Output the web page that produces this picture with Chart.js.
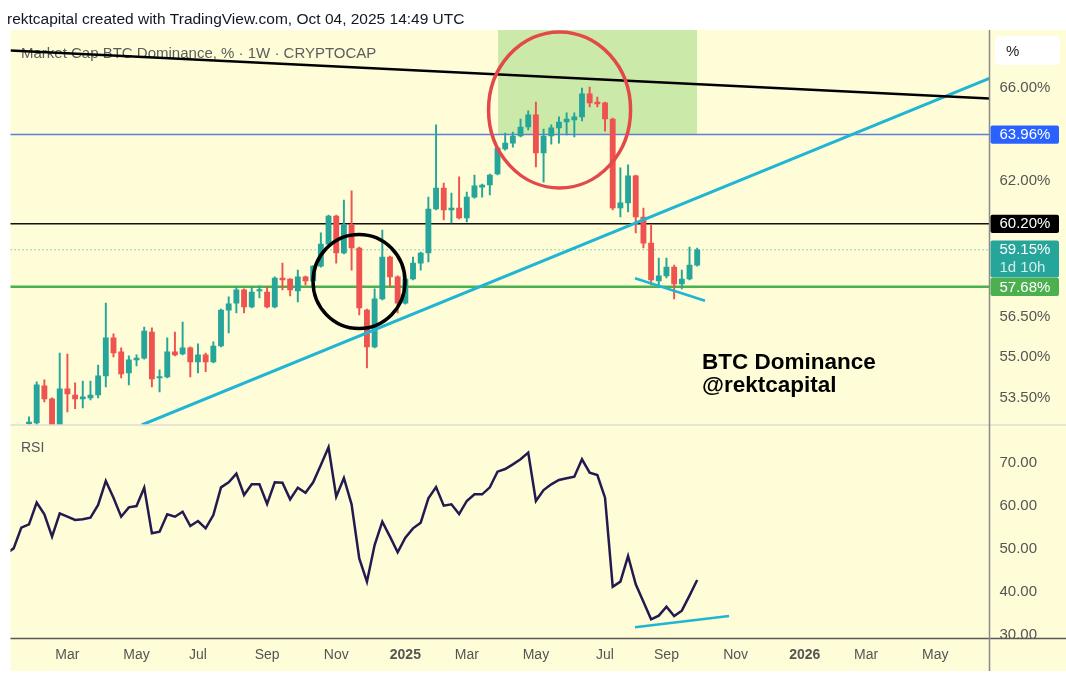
<!DOCTYPE html>
<html><head><meta charset="utf-8">
<script src="https://cdn.jsdelivr.net/npm/chart.js@4.4.0/dist/chart.umd.min.js"></script>
<style>html,body{margin:0;padding:0;background:#fff;}#wrap{width:1066px;height:675px;position:relative;}</style>
</head><body><div id="wrap"><canvas id="c"></canvas></div>
<script>
// ---- data (weekly candles, week index 0 = 2024-01-29) ----
const openP = [52.57,52.59,53.93,53.46,52.40,53.82,53.60,53.46,53.49,53.60,
54.30,55.72,55.19,54.41,54.89,54.96,55.94,54.22,54.26,55.19,
55.11,55.34,54.82,55.08,54.82,55.41,56.78,57.05,57.56,56.90,
57.52,57.48,56.90,58.03,57.99,57.52,58.07,57.91,58.50,59.38,
60.52,59.02,60.16,59.22,56.78,55.38,57.21,58.86,58.07,57.05,
57.99,58.62,59.02,60.81,61.68,60.77,60.85,60.44,61.30,61.72,
61.81,62.27,63.34,63.59,63.90,64.29,64.82,63.17,63.90,64.25,
64.51,64.60,64.73,65.75,65.39,65.35,64.64,60.85,61.06,62.19,
60.48,59.42,57.91,58.11,58.46,57.80,57.99,58.54];
const highP = [52.81,54.08,54.15,53.50,55.15,55.11,54.04,54.11,54.11,54.70,
57.05,55.87,55.34,55.04,55.08,56.13,56.10,54.52,55.72,55.94,
56.32,55.38,55.49,55.15,55.57,56.82,57.29,57.68,57.60,57.68,
57.72,57.68,58.07,58.62,58.01,58.34,58.10,58.52,59.83,60.56,
60.56,61.18,61.56,59.26,56.82,57.60,59.95,58.90,58.11,58.03,
58.86,59.06,61.30,64.38,61.89,61.47,62.15,61.51,62.23,61.85,
62.27,63.42,64.03,64.07,64.64,65.00,65.39,64.20,64.38,64.73,
64.91,64.91,66.01,66.06,65.61,65.39,64.68,62.53,62.66,62.23,
60.85,60.16,58.82,58.82,58.54,58.34,59.26,59.22];
const lowP = [52.50,52.50,53.35,52.30,52.30,52.99,53.10,53.13,53.42,53.49,
53.89,55.00,54.22,53.97,54.67,54.92,53.89,53.71,54.22,55.04,
55.08,54.26,54.41,54.45,54.78,55.38,55.91,56.67,56.67,56.86,
57.25,56.86,56.86,57.56,57.33,57.09,57.76,57.88,58.46,59.34,
58.62,58.98,58.34,56.59,54.59,55.34,57.17,57.68,56.67,57.01,
57.95,58.34,58.66,60.77,60.36,60.24,60.40,60.28,61.26,61.30,
61.39,62.23,63.29,63.42,63.86,64.16,62.57,61.93,63.55,63.59,
63.94,63.86,64.56,65.17,65.17,64.11,60.77,60.48,60.69,59.83,
59.22,57.76,57.76,58.03,57.21,57.60,57.95,58.50];
const closeP = [52.60,53.97,53.46,52.40,53.82,53.64,53.46,53.53,53.60,54.30,
55.72,55.15,54.37,54.89,54.96,55.98,54.19,54.26,55.19,55.08,
55.34,54.82,55.08,54.82,55.41,56.78,57.02,57.56,56.90,57.48,
57.56,56.90,58.03,57.95,57.56,58.07,57.91,58.50,59.38,60.52,
59.02,60.16,59.22,56.86,55.38,57.21,58.86,58.07,57.05,57.99,
58.62,59.02,60.81,61.68,60.77,60.85,60.44,61.30,61.77,61.81,
62.23,63.38,63.59,63.90,64.29,64.82,63.17,63.90,64.25,64.51,
64.64,64.73,65.75,65.35,65.30,64.64,60.85,61.06,62.19,60.48,
59.42,57.95,58.11,58.46,57.80,57.99,58.54,59.15];
const rsiFirstWeek = -3;
const rsiValues = [48.85,50.09,54.89,
55.67,60.71,57.99,52.80,58.23,57.45,56.68,56.83,57.22,60.17,
65.75,61.87,57.45,59.62,59.93,64.20,53.58,53.96,57.99,57.45,
58.61,55.28,56.44,54.74,57.84,64.27,65.44,67.45,62.49,64.97,
64.97,60.40,65.44,65.36,61.48,64.20,63.03,65.44,69.47,73.58,
62.10,66.45,60.32,47.76,42.34,50.86,56.29,52.80,49.16,52.57,
54.74,56.06,61.72,64.35,60.01,60.32,58.07,61.10,62.65,62.65,
64.27,67.92,68.54,69.62,70.79,72.34,61.10,63.65,64.97,65.98,
66.37,66.75,70.79,67.68,67.14,61.87,41.17,42.34,48.30,41.71,
37.68,33.57,34.43,36.52,34.35,35.59,39.08,42.72];
const monthTickWeeks = [5,14,22,31,40,49,57,66,75,83,92,101,109,118];
const monthTickLabels = ['Mar','May','Jul','Sep','Nov','2025','Mar','May','Jul','Sep','Nov','2026','Mar','May'];
const priceTicks = [53.5, 55, 56.5, 62, 66];
const rsiTicks = [30, 40, 50, 60, 70];
const levelBlue = 63.96, levelBlack = 60.20, levelLast = 59.15, levelGreen = 57.68;
const countdown = '1d 10h';
const resistanceLine = [{x:-2.41,y:67.72},{x:125.06,y:65.55}];
const supportLine = [{x:14.67,y:52.52},{x:125.04,y:66.45}];
const recentLowLine = [{x:78.9,y:58.02},{x:88.02,y:57.14}];
const rsiLowLine = [{x:78.9,y:31.72},{x:91.15,y:34.35}];
const zoneBottom = [{x:61.07,y:63.96},{x:87.0,y:63.96}];
const blackCircleAt = {x:42.97, y:57.89};
const redCircleAt = {x:69.08, y:65.04};
const titleText = 'Market Cap BTC Dominance, % \u00b7 1W \u00b7 CRYPTOCAP';
const headerText = 'rektcapital created with TradingView.com, Oct 04, 2025 14:49 UTC';
const noteLines = ['BTC Dominance', '@rektcapital'];

// ---- build ----
const FONT = '"Liberation Sans", Arial, sans-serif';
const UP = '#26a69a', DOWN = '#ef5350';
const weeks = openP.map((_, i) => i);
const candleColors = weeks.map(i => closeP[i] >= openP[i] ? UP : DOWN);
const hline = v => [{x:-5,y:v},{x:130,y:v}];
const XMIN = -2.41, XMAX = 125.06;

const datasets = [
  {type:'line', label:'zone', data: zoneBottom, yAxisID:'y', borderWidth:0, pointRadius:0,
   fill:'end', backgroundColor:'rgba(120,200,90,0.38)', order:20},
  {type:'line', label:'blue', data: hline(levelBlue), yAxisID:'y', borderColor:'#5b80d6', borderWidth:1.5, pointRadius:0, order:15},
  {type:'line', label:'black', data: hline(levelBlack), yAxisID:'y', borderColor:'#111', borderWidth:1.5, pointRadius:0, order:15},
  {type:'line', label:'last', data: hline(levelLast), yAxisID:'y', borderColor:'#26a69a', borderWidth:1, borderDash:[1,3], pointRadius:0, order:15},
  {type:'line', label:'green', data: hline(levelGreen), yAxisID:'y', borderColor:'#4caf50', borderWidth:2.5, pointRadius:0, order:15},
  {type:'bar', label:'wick', data: weeks.map(i => ({x:i, y:[lowP[i], highP[i]]})), yAxisID:'y',
   backgroundColor: candleColors, barThickness:1.3, grouped:false, borderWidth:0, order:10},
  {type:'bar', label:'body', data: weeks.map(i => ({x:i, y:[openP[i], closeP[i]]})), yAxisID:'y',
   backgroundColor: candleColors, barThickness:5.2, grouped:false, borderWidth:0, minBarLength:1.5, order:9},
  {type:'line', label:'resistance', data: resistanceLine, yAxisID:'y', borderColor:'#000', borderWidth:2.5, pointRadius:0, order:3},
  {type:'line', label:'support', data: supportLine, yAxisID:'y', borderColor:'#1fb5d3', borderWidth:3, pointRadius:0, order:3},
  {type:'line', label:'recentLow', data: recentLowLine, yAxisID:'y', borderColor:'#1fb5d3', borderWidth:2.5, pointRadius:0, order:3},
  {type:'line', label:'RSI', data: rsiValues.map((v, k) => ({x: rsiFirstWeek + k, y: v})), yAxisID:'yr',
   borderColor:'#231a4f', borderWidth:2.5, pointRadius:0, tension:0, order:4},
  {type:'line', label:'rsiLow', data: rsiLowLine, yAxisID:'yr', borderColor:'#1fb5d3', borderWidth:2.5, pointRadius:0, order:3},
];

const deco = {
  id:'deco',
  beforeDraw(chart){
    const c = chart.ctx;
    c.save();
    c.fillStyle = '#ffffff'; c.fillRect(0,0,chart.width,chart.height);
    c.fillStyle = '#fefdd8'; c.fillRect(10.5, 30, chart.width - 10.5, 641);
    c.restore();
  },
  beforeDatasetsDraw(chart){
    const c = chart.ctx;
    c.save();
    c.font = '15px ' + FONT; c.fillStyle = '#5d5d5d'; c.textBaseline = 'alphabetic';
    c.fillText(titleText, 21, 57.5);
    c.font = '14px ' + FONT; c.fillStyle = '#555';
    c.fillText('RSI', 21, 452);
    c.restore();
  },
  afterDatasetsDraw(chart){
    const c = chart.ctx, x = chart.scales.x, y = chart.scales.y;
    c.save();
    c.beginPath(); c.rect(x.left, y.top, x.right - x.left, y.bottom - y.top); c.clip();
    c.lineWidth = 3.5;
    c.strokeStyle = '#e3484b';
    c.beginPath(); c.ellipse(x.getPixelForValue(redCircleAt.x), y.getPixelForValue(redCircleAt.y), 71, 78, 0, 0, Math.PI*2); c.stroke();
    c.strokeStyle = '#000';
    c.beginPath(); c.ellipse(x.getPixelForValue(blackCircleAt.x), y.getPixelForValue(blackCircleAt.y), 46, 47, 0, 0, Math.PI*2); c.stroke();
    c.fillStyle = '#000'; c.font = 'bold 22.5px ' + FONT;
    c.fillText(noteLines[0], 702, 369);
    c.fillText(noteLines[1], 702, 392);
    c.restore();
  },
  afterDraw(chart){
    const c = chart.ctx, y = chart.scales.y, yr = chart.scales.yr, xs = chart.scales.x;
    c.save();
    // pane separator
    c.strokeStyle = '#dcdcd0'; c.lineWidth = 1.5;
    c.beginPath(); c.moveTo(10.5, y.bottom); c.lineTo(chart.width, y.bottom); c.stroke();
    // time axis line
    c.strokeStyle = '#5a5a5a'; c.lineWidth = 1.5;
    c.beginPath(); c.moveTo(10.5, yr.bottom); c.lineTo(chart.width, yr.bottom); c.stroke();
    // price axis line
    c.strokeStyle = '#8a8a8a'; c.lineWidth = 1.5;
    c.beginPath(); c.moveTo(xs.right, 30); c.lineTo(xs.right, 671); c.stroke();
    // price labels
    const box = (v, bg, lines) => {
      const py = y.getPixelForValue(v);
      const h = 18.4 * lines.length;
      c.fillStyle = bg;
      c.beginPath(); c.roundRect(xs.right + 1, py - 9.2, 68.5, h, 2); c.fill();
      c.font = '15px ' + FONT; c.textBaseline = 'middle';
      lines.forEach((t, k) => {
        c.fillStyle = k === 0 ? '#ffffff' : 'rgba(255,255,255,0.8)';
        c.fillText(t, xs.right + 10, py + k * 17.5 + 0.5);
      });
    };
    box(levelBlue, '#2962ff', [levelBlue.toFixed(2) + '%']);
    box(levelBlack, '#000000', [levelBlack.toFixed(2) + '%']);
    box(levelLast, '#26a69a', [levelLast.toFixed(2) + '%', countdown]);
    box(levelGreen, '#4caf50', [levelGreen.toFixed(2) + '%']);
    // % button
    c.fillStyle = '#ffffff';
    c.beginPath(); c.roundRect(995, 36, 65, 29, 5); c.fill();
    c.fillStyle = '#222'; c.font = '15px ' + FONT; c.textBaseline = 'middle';
    c.fillText('%', 1006, 51.5);
    // header
    c.fillStyle = '#131722'; c.font = '15.5px ' + FONT; c.textBaseline = 'alphabetic';
    c.fillText(headerText, 7, 24);
    c.restore();
  }
};

new Chart(document.getElementById('c'), {
  type:'bar',
  data:{ datasets },
  plugins:[deco],
  options:{
    responsive:true, maintainAspectRatio:false, animation:false,
    layout:{ padding:{ left:10.5, top:30, right:0, bottom:4 } },
    plugins:{ legend:{display:false}, tooltip:{enabled:false} },
    scales:{
      x:{ type:'linear', min:XMIN, max:XMAX, offset:false,
          grid:{display:false, drawTicks:false}, border:{display:false},
          afterBuildTicks: s => { s.ticks = monthTickWeeks.map(v => ({value:v})); },
          afterFit: s => { s.height = 32.5; },
          ticks:{ autoSkip:false, maxRotation:0, padding:8, color:'#555',
            callback:(v, i) => monthTickLabels[i],
            font: ctx => ({family:FONT, size:14, weight: /^\d/.test(monthTickLabels[ctx.index] || '') ? 'bold' : 'normal'}) } },
      y:{ type:'logarithmic', position:'right', stack:'panes', stackWeight:395, min:52.519, max:68.664, bounds:'data',
          grid:{display:false, drawTicks:false}, border:{display:false},
          afterBuildTicks: s => { s.ticks = priceTicks.map(v => ({value:v})); },
          afterFit: s => { s.width = 76.5; },
          ticks:{ autoSkip:false, padding:10, color:'#555', font:{family:FONT, size:15},
            callback: v => Number(v).toFixed(2) + '%' } },
      yr:{ type:'linear', position:'right', stack:'panes', stackWeight:213.5, min:29.12, max:78.77,
          grid:{display:false, drawTicks:false}, border:{display:false},
          afterBuildTicks: s => { s.ticks = rsiTicks.map(v => ({value:v})); },
          afterFit: s => { s.width = 76.5; },
          ticks:{ autoSkip:false, padding:10, color:'#555', font:{family:FONT, size:15},
            callback: v => Number(v).toFixed(2) } }
    }
  }
});
</script></body></html>
